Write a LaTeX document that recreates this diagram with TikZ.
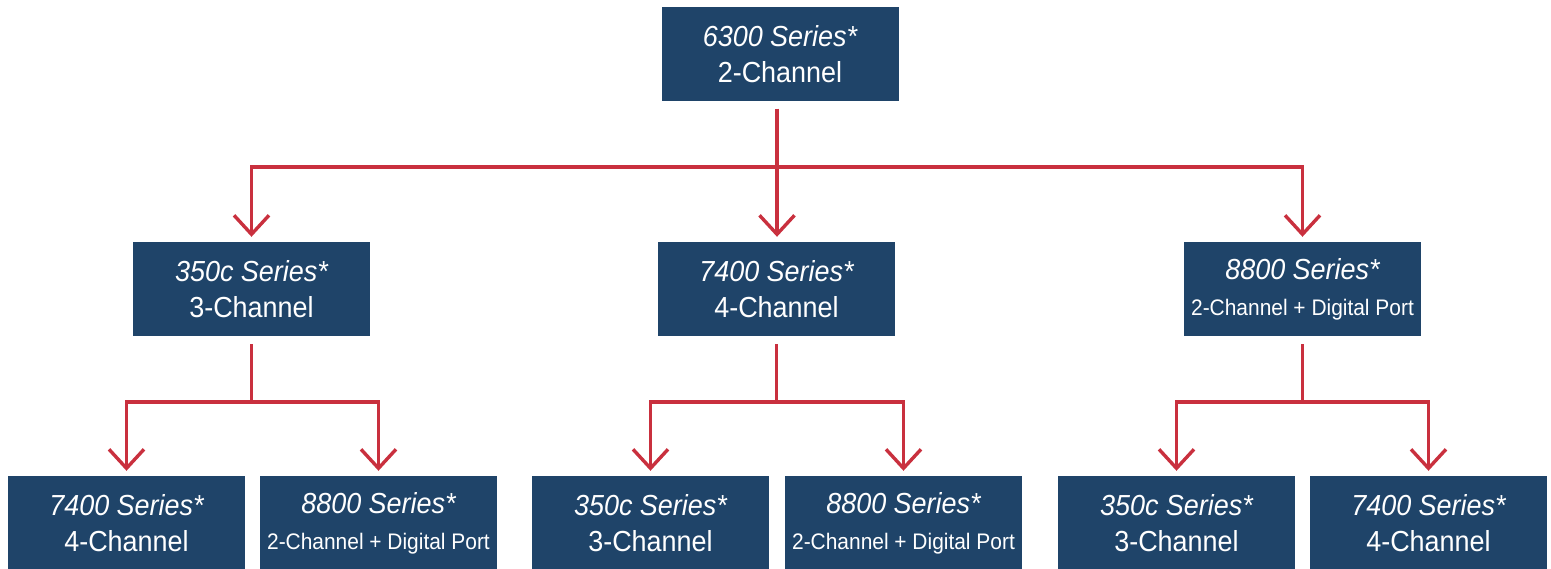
\documentclass[tikz,border=0pt]{standalone}
\usepackage{fontspec}
\newfontfamily\boxfont{Liberation Sans}[FakeStretch=0.93]
\usetikzlibrary{arrows.meta}
\definecolor{boxblue}{HTML}{1F4469}
\definecolor{linered}{HTML}{C9303E}
\tikzset{
  box/.style={fill=boxblue, text=white, minimum width=237pt, minimum height=94pt,
    inner sep=0pt, align=center, font=\boxfont\fontsize{29}{36}\selectfont},
  conn/.style={draw=linered, line width=3.4pt, shorten <=8pt, shorten >=5pt,
    -{Straight Barb[length=19pt,width=35pt,line width=3.4pt]}},
}
\newcommand{\smallline}[1]{{\fontsize{22.5}{27}\selectfont #1}}
\begin{document}
\begin{tikzpicture}[x=1pt,y=1pt]
\useasboundingbox (0,0) rectangle (1551,-569);
% top
\node[box] (top) at (780,-54) {{\itshape 6300 Series*}\\2-Channel};
% middle
\node[box] (m1) at (251.5,-289) {{\itshape 350c Series*}\\3-Channel};
\node[box] (m2) at (776.5,-289) {{\itshape 7400 Series*}\\4-Channel};
\node[box] (m3) at (1302.5,-289) {{\itshape 8800 Series*}\\\smallline{2-Channel + Digital Port}};
% bottom
\node[box] (b1) at (126.5,-523) {{\itshape 7400 Series*}\\4-Channel};
\node[box] (b2) at (378.5,-523) {{\itshape 8800 Series*}\\\smallline{2-Channel + Digital Port}};
\node[box] (b3) at (650.5,-523) {{\itshape 350c Series*}\\3-Channel};
\node[box] (b4) at (903.5,-523) {{\itshape 8800 Series*}\\\smallline{2-Channel + Digital Port}};
\node[box] (b5) at (1176.5,-523) {{\itshape 350c Series*}\\3-Channel};
\node[box] (b6) at (1428.5,-523) {{\itshape 7400 Series*}\\4-Channel};
% connectors from top
\coordinate (tstart) at (777,-101);
\draw[conn] (tstart) -- ++(0,-66) -| (m1.north);
\draw[conn] (tstart) -- ++(0,-66) -| (m3.north);
\draw[conn] (tstart) -- (tstart |- m2.north);
% from middle
\draw[conn] (m1.south) -- ++(0,-66) -| (b1.north);
\draw[conn] (m1.south) -- ++(0,-66) -| (b2.north);
\draw[conn] (m2.south) -- ++(0,-66) -| (b3.north);
\draw[conn] (m2.south) -- ++(0,-66) -| (b4.north);
\draw[conn] (m3.south) -- ++(0,-66) -| (b5.north);
\draw[conn] (m3.south) -- ++(0,-66) -| (b6.north);
\end{tikzpicture}
\end{document}
